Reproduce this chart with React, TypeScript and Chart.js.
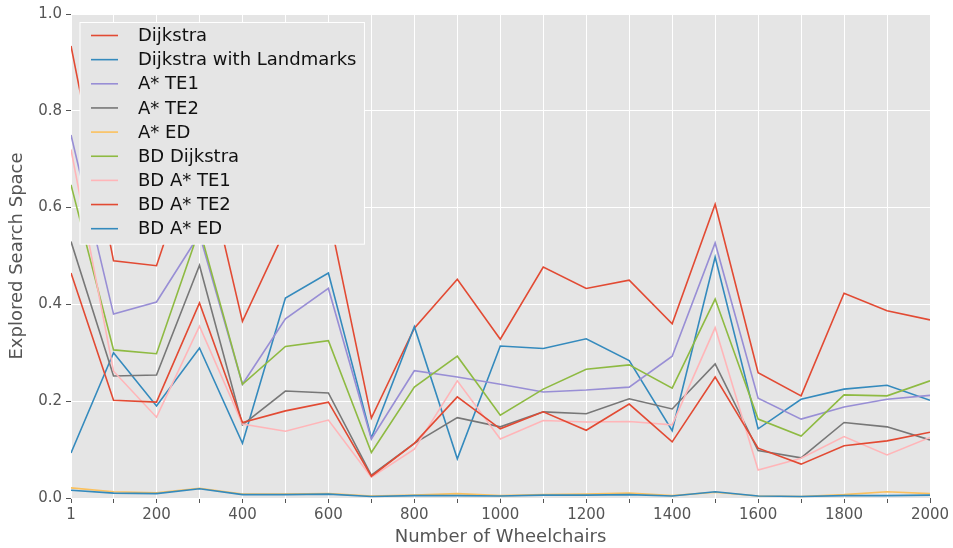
import { useEffect, useRef } from "react";
import { Chart, registerables } from "chart.js";

Chart.register(...registerables);

const wheelchairs = [1, 100, 200, 300, 400, 500, 600, 700, 800, 900, 1000, 1100, 1200, 1300, 1400, 1500, 1600, 1700, 1800, 1900, 2000];

const xTickValues = [1, 100, 200, 300, 400, 500, 600, 700, 800, 900, 1000, 1100, 1200, 1300, 1400, 1500, 1600, 1700, 1800, 1900, 2000];
const xTickLabelled = [1, 200, 400, 600, 800, 1000, 1200, 1400, 1600, 1800, 2000];
const yTickValues = [0, 0.2, 0.4, 0.6, 0.8, 1.0];

const seriesNames = [
  "Dijkstra",
  "Dijkstra with Landmarks",
  "A* TE1",
  "A* TE2",
  "A* ED",
  "BD Dijkstra",
  "BD A* TE1",
  "BD A* TE2",
  "BD A* ED",
];

const dijkstra = [0.934, 0.49, 0.48, 0.745, 0.365, 0.555, 0.59, 0.165, 0.351, 0.452, 0.328, 0.477, 0.433, 0.45, 0.36, 0.607, 0.259, 0.211, 0.423, 0.387, 0.368];
const dijkstraLandmarks = [0.093, 0.3, 0.19, 0.31, 0.113, 0.413, 0.465, 0.124, 0.354, 0.081, 0.314, 0.309, 0.329, 0.284, 0.139, 0.498, 0.143, 0.204, 0.225, 0.233, 0.202];
const aStarTE1 = [0.75, 0.38, 0.405, 0.545, 0.235, 0.37, 0.433, 0.122, 0.263, 0.25, 0.235, 0.219, 0.223, 0.229, 0.293, 0.527, 0.206, 0.163, 0.188, 0.204, 0.212];
const aStarTE2 = [0.53, 0.252, 0.254, 0.481, 0.151, 0.221, 0.217, 0.047, 0.113, 0.166, 0.147, 0.178, 0.174, 0.205, 0.184, 0.277, 0.098, 0.083, 0.156, 0.147, 0.12];
const aStarED = [0.021, 0.013, 0.011, 0.02, 0.008, 0.008, 0.009, 0.004, 0.006, 0.009, 0.005, 0.007, 0.008, 0.01, 0.005, 0.012, 0.004, 0.003, 0.007, 0.013, 0.009];
const bdDijkstra = [0.647, 0.306, 0.298, 0.556, 0.235, 0.313, 0.325, 0.094, 0.229, 0.293, 0.171, 0.225, 0.266, 0.275, 0.227, 0.411, 0.163, 0.128, 0.213, 0.211, 0.242];
const bdAStarTE1 = [0.72, 0.262, 0.167, 0.355, 0.153, 0.138, 0.161, 0.043, 0.101, 0.242, 0.122, 0.16, 0.157, 0.158, 0.151, 0.352, 0.058, 0.082, 0.127, 0.089, 0.125];
const bdAStarTE2 = [0.465, 0.202, 0.198, 0.403, 0.156, 0.18, 0.198, 0.045, 0.113, 0.209, 0.143, 0.178, 0.14, 0.194, 0.116, 0.25, 0.103, 0.07, 0.108, 0.118, 0.136];
const bdAStarED = [0.016, 0.01, 0.009, 0.019, 0.007, 0.007, 0.008, 0.003, 0.005, 0.005, 0.004, 0.006, 0.006, 0.007, 0.004, 0.013, 0.004, 0.003, 0.005, 0.005, 0.006];

const seriesValues = [dijkstra, dijkstraLandmarks, aStarTE1, aStarTE2, aStarED, bdDijkstra, bdAStarTE1, bdAStarTE2, bdAStarED];

const seriesColors = ["#E24A33", "#348ABD", "#988ED5", "#777777", "#FBC15E", "#8EBA42", "#FFB5B8", "#E24A33", "#348ABD"];

const FONT = "'DejaVu Sans', 'Liberation Sans', sans-serif";

const backgroundPlugin = {
  id: "ggBackground",
  beforeDraw(chart: any) {
    const { ctx, chartArea } = chart;
    ctx.save();
    ctx.fillStyle = "#E5E5E5";
    ctx.fillRect(chartArea.left, chartArea.top, chartArea.right - chartArea.left, chartArea.bottom - chartArea.top);
    ctx.restore();
  },
};

const legendPlugin = {
  id: "boxLegend",
  afterDatasetsDraw(chart: any) {
    const { ctx, chartArea } = chart;
    const datasets = chart.data.datasets;
    ctx.save();
    ctx.font = `18px ${FONT}`;
    let maxW = 0;
    datasets.forEach((ds: any) => {
      maxW = Math.max(maxW, ctx.measureText(ds.label).width);
    });
    const x0 = chartArea.left + 9;
    const y0 = chartArea.top + 8.5;
    const rowH = 24.15;
    const w = 58 + maxW + 8;
    const h = 13 + rowH * (datasets.length - 1) + 15.5;
    ctx.fillStyle = "#E5E5E5";
    ctx.fillRect(x0, y0, w, h);
    ctx.strokeStyle = "#FFFFFF";
    ctx.lineWidth = 1;
    ctx.strokeRect(x0, y0, w, h);
    ctx.textBaseline = "middle";
    ctx.textAlign = "left";
    datasets.forEach((ds: any, i: number) => {
      const cy = y0 + 13 + i * rowH;
      ctx.strokeStyle = ds.borderColor;
      ctx.lineWidth = 1.6;
      ctx.beginPath();
      ctx.moveTo(x0 + 11, cy);
      ctx.lineTo(x0 + 38, cy);
      ctx.stroke();
      ctx.fillStyle = "#111111";
      ctx.fillText(ds.label, x0 + 58, cy + 1);
    });
    ctx.restore();
  },
};

export default function App() {
  const canvasRef = useRef<HTMLCanvasElement | null>(null);

  useEffect(() => {
    document.body.style.margin = "0";
    const canvas = canvasRef.current;
    if (!canvas) return;
    const chart = new Chart(canvas, {
      type: "line",
      data: {
        datasets: seriesNames.map((name, i) => ({
          label: name,
          data: wheelchairs.map((x, j) => ({ x, y: seriesValues[i][j] })),
          borderColor: seriesColors[i],
          backgroundColor: seriesColors[i],
          borderWidth: 1.6,
          pointRadius: 0,
          pointHoverRadius: 0,
          tension: 0,
          fill: false,
          order: -i,
        })),
      },
      options: {
        animation: false,
        responsive: false,
        devicePixelRatio: 1,
        layout: { padding: { top: 14, right: 23, left: 0, bottom: 0 } },
        plugins: {
          legend: { display: false },
          tooltip: { enabled: false },
        },
        events: [],
        scales: {
          x: {
            type: "linear",
            min: 1,
            max: 2000,
            afterBuildTicks: (scale: any) => {
              scale.ticks = xTickValues.map((v) => ({ value: v }));
            },
            afterFit: (scale: any) => {
              scale.height = 50;
            },
            border: { display: false },
            grid: {
              color: "#FFFFFF",
              lineWidth: 1,
              drawTicks: true,
              tickLength: 5,
              tickColor: "#555555",
            },
            ticks: {
              autoSkip: false,
              maxRotation: 0,
              minRotation: 0,
              padding: 3,
              color: "#555555",
              font: { family: FONT, size: 15 },
              callback: (v: any) => (xTickLabelled.includes(Number(v)) ? String(v) : ""),
            },
            title: {
              display: true,
              text: "Number of Wheelchairs",
              color: "#555555",
              font: { family: FONT, size: 18 },
              padding: { top: 0, bottom: 0 },
            },
          },
          y: {
            type: "linear",
            min: 0,
            max: 1,
            afterBuildTicks: (scale: any) => {
              scale.ticks = yTickValues.map((v) => ({ value: v }));
            },
            afterFit: (scale: any) => {
              scale.width = 71;
            },
            border: { display: false },
            grid: {
              color: "#FFFFFF",
              lineWidth: 1,
              drawTicks: true,
              tickLength: 5,
              tickColor: "#555555",
            },
            ticks: {
              padding: 4,
              color: "#555555",
              font: { family: FONT, size: 15 },
              callback: (v: any) => Number(v).toFixed(1),
            },
            title: {
              display: true,
              text: "Explored Search Space",
              color: "#555555",
              font: { family: FONT, size: 18 },
              padding: { top: 7, bottom: 0 },
            },
          },
        },
      },
      plugins: [backgroundPlugin, legendPlugin],
    } as any);
    return () => chart.destroy();
  }, []);

  return (
    <div style={{ position: "absolute", left: 0, top: 0, width: 953, height: 548 }}>
      <canvas ref={canvasRef} width={953} height={548} style={{ display: "block", width: 953, height: 548 }} />
    </div>
  );
}
